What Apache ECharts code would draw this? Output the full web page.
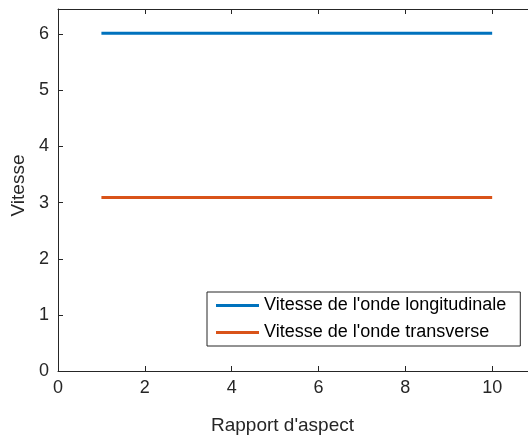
<!DOCTYPE html>
<html><head><meta charset="utf-8">
<script src="https://cdn.jsdelivr.net/npm/echarts@6/dist/echarts.min.js"></script>
<style>html,body{margin:0;padding:0;background:#fff}#c{width:528px;height:437px}</style>
</head><body><div id="c"></div>
<script>
const xValues = [1, 2, 3, 4, 5, 6, 7, 8, 9, 10];
const longitudinal = [6.02, 6.02, 6.02, 6.02, 6.02, 6.02, 6.02, 6.02, 6.02, 6.02];
const transverse = [3.09, 3.09, 3.09, 3.09, 3.09, 3.09, 3.09, 3.09, 3.09, 3.09];
const seriesNames = ["Vitesse de l'onde longitudinale", "Vitesse de l'onde transverse"];
const xTitle = "Rapport d'aspect";
const yTitle = "Vitesse";

const font = 'Liberation Sans, Arial, sans-serif';
const ax = '#262626';
const chart = echarts.init(document.getElementById('c'));
const axisCommon = {
  axisLine: {show: true, lineStyle: {color: ax, width: 1}},
  axisTick: {show: true, inside: true, length: 5, lineStyle: {color: ax}},
  splitLine: {show: false}
};
chart.setOption({
  animation: false,
  backgroundColor: '#fff',
  grid: {left: 58, top: 9, right: -51, bottom: 66, show: false, outerBoundsMode: 'none', containLabel: false},
  xAxis: [
    Object.assign({type: 'value', min: 0, max: 12, interval: 2, position: 'bottom',
      name: xTitle, nameLocation: 'middle', nameGap: 45,
      nameTextStyle: {fontFamily: font, fontSize: 19, color: ax, padding: [0, 72, 0, 0]},
      axisLabel: {fontFamily: font, fontSize: 18, color: ax, margin: 8}}, axisCommon),
    Object.assign({type: 'value', min: 0, max: 12, interval: 2, position: 'top',
      axisLabel: {show: false}}, axisCommon)
  ],
  yAxis: [
    Object.assign({type: 'value', min: 0, max: 6.45, interval: 1, position: 'left',
      name: yTitle, nameLocation: 'middle', nameGap: 26,
      nameTextStyle: {fontFamily: font, fontSize: 19, color: ax, padding: [0, 0, 0, 9]},
      axisLabel: {fontFamily: font, fontSize: 18, color: ax, margin: 9,
        formatter: v => (Math.abs(v - Math.round(v)) < 1e-9 ? String(v) : '')}}, axisCommon)
  ],
  legend: {
    show: true, orient: 'vertical', left: 207, top: 292, width: 315,
    padding: [3, 14, 3, 9], itemGap: 6,
    backgroundColor: '#fff', borderColor: ax, borderWidth: 1, borderRadius: 0,
    itemWidth: 43, itemHeight: 3,
    icon: 'rect',
    textStyle: {fontFamily: font, fontSize: 18, color: '#000', padding: [0, 0, 0, 0], lineHeight: 21},
    data: seriesNames.map(n => ({name: n, icon: 'rect'}))
  },
  series: [
    {name: seriesNames[0], type: 'line', data: xValues.map((x, i) => [x, longitudinal[i]]),
     showSymbol: false, symbol: 'none', color: '#0072BD', lineStyle: {width: 3, color: '#0072BD'}},
    {name: seriesNames[1], type: 'line', data: xValues.map((x, i) => [x, transverse[i]]),
     showSymbol: false, symbol: 'none', color: '#D95319', lineStyle: {width: 3, color: '#D95319'}}
  ]
});
</script></body></html>
